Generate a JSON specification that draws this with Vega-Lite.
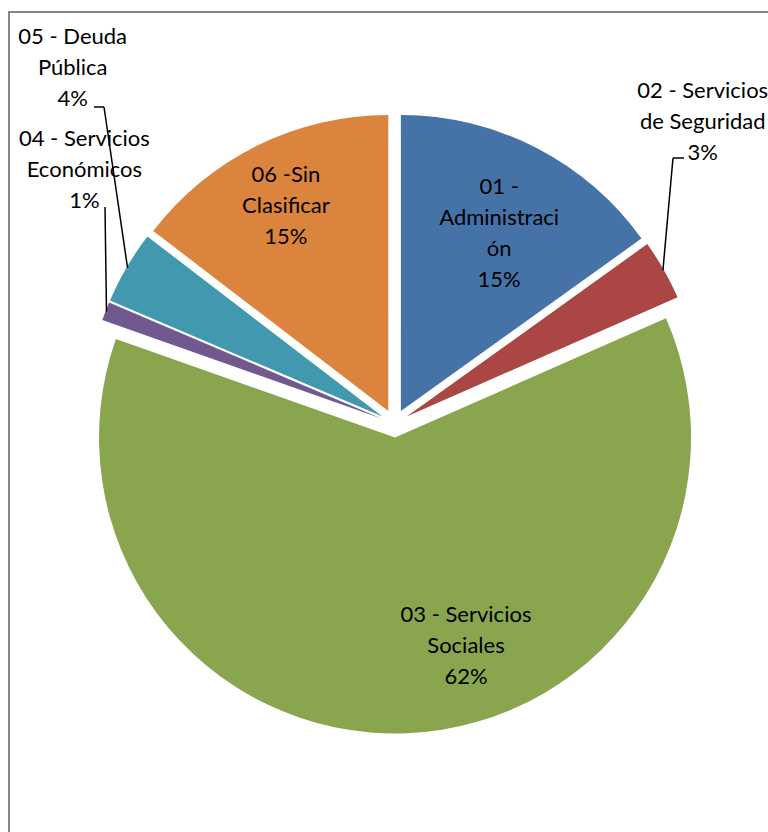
{
  "$schema": "https://vega.github.io/schema/vega-lite/v6.json",
  "width": 771,
  "height": 823,
  "autosize": "none",
  "padding": {"left": 9, "top": 12, "right": -12, "bottom": -3},
  "background": "white",
  "view": {"stroke": "#868686", "strokeWidth": 2, "fill": "white"},
  "config": {
    "font": "Lato",
    "text": {"font": "Lato", "fontSize": 22, "lineHeight": 31, "color": "#000000", "align": "center", "baseline": "middle"}
  },
  "data": {
    "values": [
      {"cat": "01 - Administración", "pct": 15.1, "label": ["01 -", "Administraci", "ón", "15%"]},
      {"cat": "02 - Servicios de Seguridad", "pct": 3.3, "label": ["02 - Servicios", "de Seguridad", "3%"]},
      {"cat": "03 - Servicios Sociales", "pct": 62.0, "label": ["03 - Servicios", "Sociales", "62%"]},
      {"cat": "04 - Servicios Económicos", "pct": 1.0, "label": ["04 - Servicios", "Económicos", "1%"]},
      {"cat": "05 - Deuda Pública", "pct": 4.0, "label": ["05 - Deuda", "Pública", "4%"]},
      {"cat": "06 - Sin Clasificar", "pct": 14.6, "label": ["06 -Sin", "Clasificar", "15%"]}
    ]
  },
  "transform": [
    {"stack": "pct", "groupby": [], "as": ["p0", "p1"], "sort": [{"field": "cat", "order": "ascending"}]},
    {"calculate": "(datum.p0 + datum.p1) / 2", "as": "pm"}
  ],
  "layer": [
    {
      "mark": {
        "type": "arc",
        "radius": 296,
        "xOffset": {"expr": "14*sin(PI*datum.pm/50)"},
        "yOffset": {"expr": "-14*cos(PI*datum.pm/50)"}
      },
      "encoding": {
        "theta": {"field": "p0", "type": "quantitative", "scale": {"domain": [0, 100]}},
        "theta2": {"field": "p1"},
        "color": {
          "field": "cat",
          "type": "nominal",
          "scale": {
            "domain": ["01 - Administración", "02 - Servicios de Seguridad", "03 - Servicios Sociales", "04 - Servicios Económicos", "05 - Deuda Pública", "06 - Sin Clasificar"],
            "range": ["#4572A7", "#AA4643", "#89A54E", "#71588F", "#4198AF", "#DB843D"]
          },
          "legend": null
        }
      }
    },
    {
      "transform": [{"filter": "datum.cat === '01 - Administración'"}],
      "mark": {"type": "text", "radius": 216, "dx": 6, "dy": -44},
      "encoding": {"theta": {"field": "pm", "type": "quantitative"}, "text": {"field": "label"}}
    },
    {
      "transform": [{"filter": "datum.cat === '06 - Sin Clasificar'"}],
      "mark": {"type": "text", "radius": 243, "dx": -1, "dy": -31},
      "encoding": {"theta": {"field": "pm", "type": "quantitative"}, "text": {"field": "label"}}
    },
    {
      "transform": [{"filter": "datum.cat === '03 - Servicios Sociales'"}],
      "mark": {"type": "text", "radius": 225, "dx": 63, "dy": -33},
      "encoding": {"theta": {"field": "pm", "type": "quantitative"}, "text": {"field": "label"}}
    },
    {
      "transform": [{"filter": "datum.cat === '02 - Servicios de Seguridad'"}],
      "mark": {"type": "text", "radius": 417, "dx": -54, "dy": -126},
      "encoding": {"theta": {"field": "pm", "type": "quantitative"}, "text": {"field": "label"}}
    },
    {
      "transform": [{"filter": "datum.cat === '05 - Deuda Pública'"}],
      "mark": {"type": "text", "radius": 457, "dx": 73, "dy": -156},
      "encoding": {"theta": {"field": "pm", "type": "quantitative"}, "text": {"field": "label"}}
    },
    {
      "transform": [{"filter": "datum.cat === '04 - Servicios Económicos'"}],
      "mark": {"type": "text", "radius": 381, "dx": 45, "dy": -146},
      "encoding": {"theta": {"field": "pm", "type": "quantitative"}, "text": {"field": "label"}}
    },
    {
      "transform": [{"filter": "datum.cat === '05 - Deuda Pública'"}],
      "mark": {"type": "rule", "color": "#000000", "strokeWidth": 1.5},
      "encoding": {
        "x": {"value": {"expr": "width/2 + 309*sin(PI*datum.pm/50)"}},
        "y": {"value": {"expr": "height/2 - 309*cos(PI*datum.pm/50)"}},
        "x2": {"value": {"expr": "width/2 - 290.5"}},
        "y2": {"value": {"expr": "height/2 - 316.5"}}
      }
    },
    {
      "transform": [{"filter": "datum.cat === '05 - Deuda Pública'"}],
      "mark": {"type": "rule", "color": "#000000", "strokeWidth": 1.5},
      "encoding": {
        "x": {"value": {"expr": "width/2 - 290.5"}},
        "y": {"value": {"expr": "height/2 - 316.5"}},
        "x2": {"value": {"expr": "width/2 - 300.5"}},
        "y2": {"value": {"expr": "height/2 - 316.5"}}
      }
    },
    {
      "transform": [{"filter": "datum.cat === '04 - Servicios Económicos'"}],
      "mark": {"type": "rule", "color": "#000000", "strokeWidth": 1.5},
      "encoding": {
        "x": {"value": {"expr": "width/2 + 309*sin(PI*datum.pm/50)"}},
        "y": {"value": {"expr": "height/2 - 309*cos(PI*datum.pm/50)"}},
        "x2": {"value": {"expr": "width/2 - 289.5"}},
        "y2": {"value": {"expr": "height/2 - 216.5"}}
      }
    },
    {
      "transform": [{"filter": "datum.cat === '02 - Servicios de Seguridad'"}],
      "mark": {"type": "rule", "color": "#000000", "strokeWidth": 1.5},
      "encoding": {
        "x": {"value": {"expr": "width/2 + 309*sin(PI*datum.pm/50)"}},
        "y": {"value": {"expr": "height/2 - 309*cos(PI*datum.pm/50)"}},
        "x2": {"value": {"expr": "width/2 + 278.5"}},
        "y2": {"value": {"expr": "height/2 - 265.5"}}
      }
    },
    {
      "transform": [{"filter": "datum.cat === '02 - Servicios de Seguridad'"}],
      "mark": {"type": "rule", "color": "#000000", "strokeWidth": 1.5},
      "encoding": {
        "x": {"value": {"expr": "width/2 + 278.5"}},
        "y": {"value": {"expr": "height/2 - 265.5"}},
        "x2": {"value": {"expr": "width/2 + 289.5"}},
        "y2": {"value": {"expr": "height/2 - 265.5"}}
      }
    }
  ]
}
